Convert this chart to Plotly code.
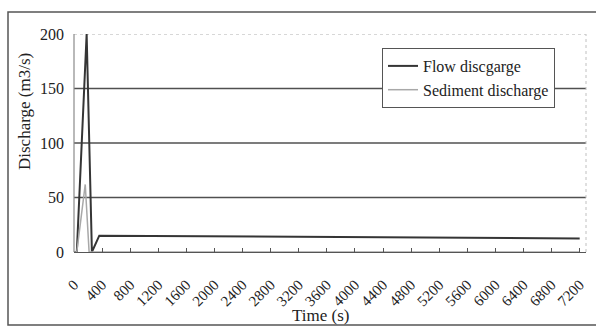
import plotly.graph_objects as go

# Data
flow_time = [0, 40, 180, 245, 255, 360, 7200]
flow_q = [0, 0, 200, 0, 0, 15, 12.5]
sed_time = [0, 40, 160, 215, 7200]
sed_q = [0, 0, 62, 0, 0]
x_ticks = list(range(0, 7201, 400))
y_ticks = [0, 50, 100, 150, 200]

W, H = 596, 329
L, R, T, B = 74, 10, 34, 77
PW, PH = W - L - R, H - T - B

def px(x):
    return (x - L) / PW

def py(y):
    return (H - B - y) / PH

SERIF = "Liberation Serif"

fig = go.Figure()
fig.add_trace(go.Scatter(x=flow_time, y=flow_q, mode="lines", name="Flow discgarge",
                         line=dict(color="#353535", width=2)))
fig.add_trace(go.Scatter(x=sed_time, y=sed_q, mode="lines", name="Sediment discharge",
                         line=dict(color="#a8a8a8", width=1.5)))

shapes = []
for v in [50, 100, 150]:
    shapes.append(dict(type="line", xref="paper", yref="y", x0=0, x1=1, y0=v, y1=v,
                       line=dict(color="#505050", width=1.3), layer="below"))
shapes.append(dict(type="line", xref="paper", yref="y", x0=0, x1=1, y0=200, y1=200,
                   line=dict(color="#b0b0b0", width=1, dash="dot"), layer="below"))
shapes.append(dict(type="line", xref="paper", yref="paper", x0=1, x1=1, y0=0, y1=1,
                   line=dict(color="#c0c0c0", width=1, dash="dot"), layer="below"))
shapes.append(dict(type="line", xref="paper", yref="paper", x0=0, x1=0, y0=0, y1=1,
                   line=dict(color="#8a8a8a", width=1.2), layer="below"))
shapes.append(dict(type="rect", xref="paper", yref="paper",
                   x0=px(8), x1=px(600), y0=py(325), y1=py(12),
                   line=dict(color="#555555", width=1.5), layer="below"))

fig.update_layout(
    width=W, height=H,
    margin=dict(l=L, r=R, t=T, b=B, autoexpand=False),
    paper_bgcolor="white", plot_bgcolor="white",
    font=dict(family=SERIF, color="#222222"),
    showlegend=True,
    legend=dict(x=px(382), y=py(48), xanchor="left", yanchor="top",
                bgcolor="white", bordercolor="#555555", borderwidth=1,
                font=dict(family=SERIF, size=16, color="#222222"),
                tracegroupgap=0, itemwidth=30),
    shapes=shapes,
    annotations=[
        dict(text="Discharge (m3/s)", xref="paper", yref="paper",
             x=px(25), y=py(112), textangle=-90, showarrow=False,
             font=dict(family=SERIF, size=17, color="#222222"),
             xanchor="center", yanchor="middle"),
        dict(text="Time (s)", xref="paper", yref="paper",
             x=px(320), y=py(315), showarrow=False,
             font=dict(family=SERIF, size=17, color="#222222"),
             xanchor="center", yanchor="middle"),
    ],
    xaxis=dict(range=[0, 7290], tickmode="array", tickvals=x_ticks,
               ticktext=[str(v) for v in x_ticks], tickangle=-45,
               showgrid=False, zeroline=False, showline=True,
               linecolor="#555555", linewidth=1.3, automargin=False,
               ticks="inside", ticklen=4, tickcolor="#555555",
               tickfont=dict(family=SERIF, size=15, color="#222222"),
               ticklabelstandoff=17),
    yaxis=dict(range=[0, 200], tickmode="array", tickvals=y_ticks,
               showgrid=False, zeroline=False, showline=False, automargin=False,
               ticks="", tickfont=dict(family=SERIF, size=16, color="#222222"),
               ticklabelstandoff=9),
)

fig.write_html("out.html", config={"displayModeBar": False},
               post_script="document.body.style.margin='0';document.body.style.overflow='hidden';")
